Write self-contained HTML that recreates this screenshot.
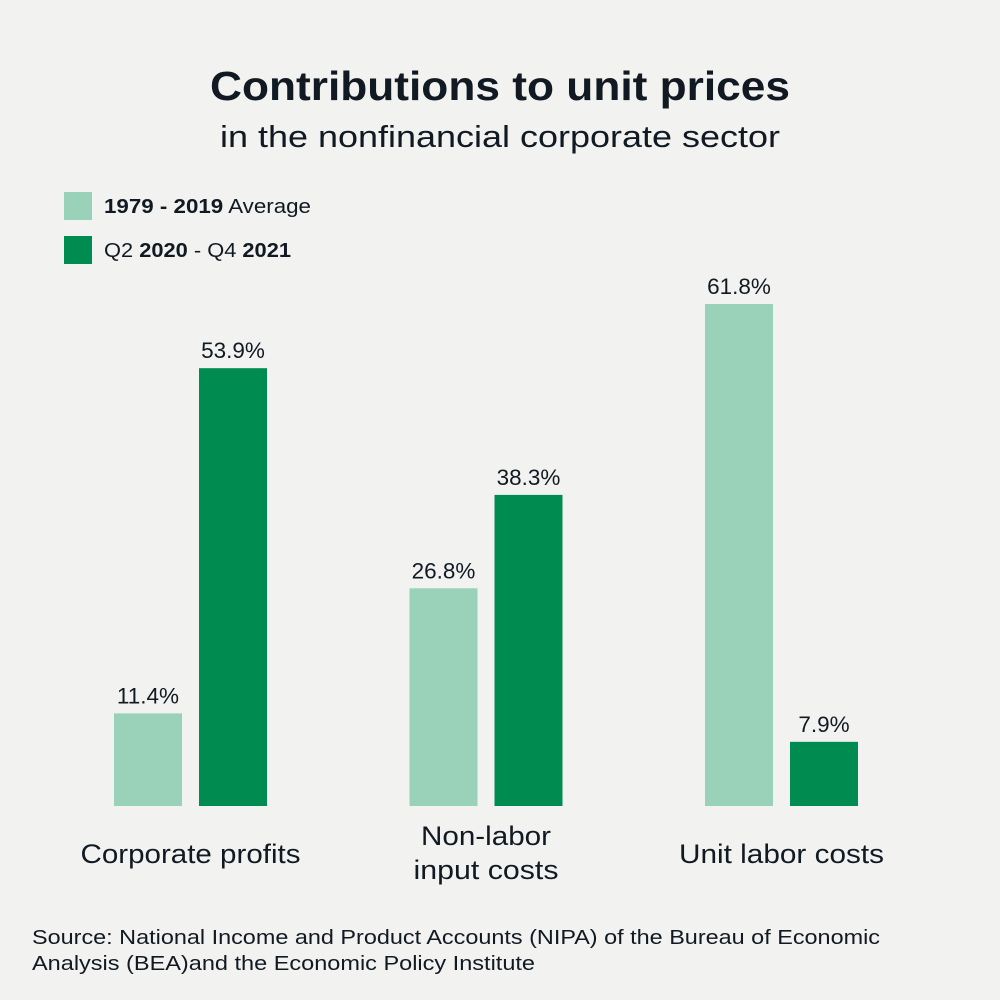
<!DOCTYPE html>
<html><head><meta charset="utf-8"><style>
body{margin:0;background:#f2f2f0;}
svg{display:block;font-family:"Liberation Sans","DejaVu Sans",sans-serif;}
</style></head><body>
<svg id="chart" width="1000" height="1000" viewBox="0 0 1000 1000">
<rect width="1000" height="1000" fill="#f2f2f0"/>
<text x="500" y="100" text-anchor="middle" font-size="41" font-weight="bold" fill="#111a22" textLength="580" lengthAdjust="spacingAndGlyphs">Contributions to unit prices</text>
<text x="500" y="147" text-anchor="middle" font-size="31" fill="#111a22" textLength="560" lengthAdjust="spacingAndGlyphs">in the nonfinancial corporate sector</text>
<g>
<rect x="64" y="192" width="28" height="28" fill="#99d1b9"/>
<text x="104" y="213" font-size="20" fill="#111a22" textLength="207" lengthAdjust="spacingAndGlyphs"><tspan font-weight="bold">1979 - 2019</tspan> Average</text>
<rect x="64" y="236" width="28" height="28" fill="#008c50"/>
<text x="104" y="257" font-size="20" fill="#111a22" textLength="187" lengthAdjust="spacingAndGlyphs">Q2 <tspan font-weight="bold">2020</tspan> - Q4 <tspan font-weight="bold">2021</tspan></text>
</g>
<g id="bars"></g>
<text x="32" y="944" font-size="20" fill="#111a22" textLength="848" lengthAdjust="spacingAndGlyphs">Source: National Income and Product Accounts (NIPA) of the Bureau of Economic</text>
<text x="32" y="970" font-size="20" fill="#111a22" textLength="503" lengthAdjust="spacingAndGlyphs">Analysis (BEA)and the Economic Policy Institute</text>
</svg>
<script>
const categories = [["Corporate profits"], ["Non-labor", "input costs"], ["Unit labor costs"]];
const averageValues = [11.4, 26.8, 61.8];
const recentValues = [53.9, 38.3, 7.9];
const labelWidths = {"Corporate profits":220,"Non-labor":130,"input costs":145,"Unit labor costs":205};
const NS = "http://www.w3.org/2000/svg";
const baseY = 806, pxPer = 502 / 61.8;
const y = v => baseY - v * pxPer;
const groupX = i => 114 + i * 295.5;
const g = document.getElementById("bars");
function mk(tag, attrs){const e=document.createElementNS(NS,tag);for(const k in attrs)e.setAttribute(k,attrs[k]);g.appendChild(e);return e;}
categories.forEach((c,i)=>{
  [[averageValues[i],"#99d1b9",0,"average"],[recentValues[i],"#008c50",85,"recent"]].forEach(([v,col,off,nm])=>{
    const x=groupX(i)+off;
    const r=mk("rect",{x:x,y:y(v),width:68,height:baseY-y(v),fill:col});
    
    
    const t=mk("text",{x:x+34,y:y(v)-10,"text-anchor":"middle","font-size":22.5,fill:"#111a22"});
    t.textContent=v.toFixed(1)+"%";
    
    
  });
  const cx=groupX(i)+76.5;
  const startY = c.length===1 ? 863 : 845;
  c.forEach((line,j)=>{
    const t=mk("text",{x:cx,y:startY+j*34,"text-anchor":"middle","font-size":27,fill:"#111a22",textLength:labelWidths[line],lengthAdjust:"spacingAndGlyphs"});
    t.textContent=line;
    
    
  });
});
</script>
</body></html>
